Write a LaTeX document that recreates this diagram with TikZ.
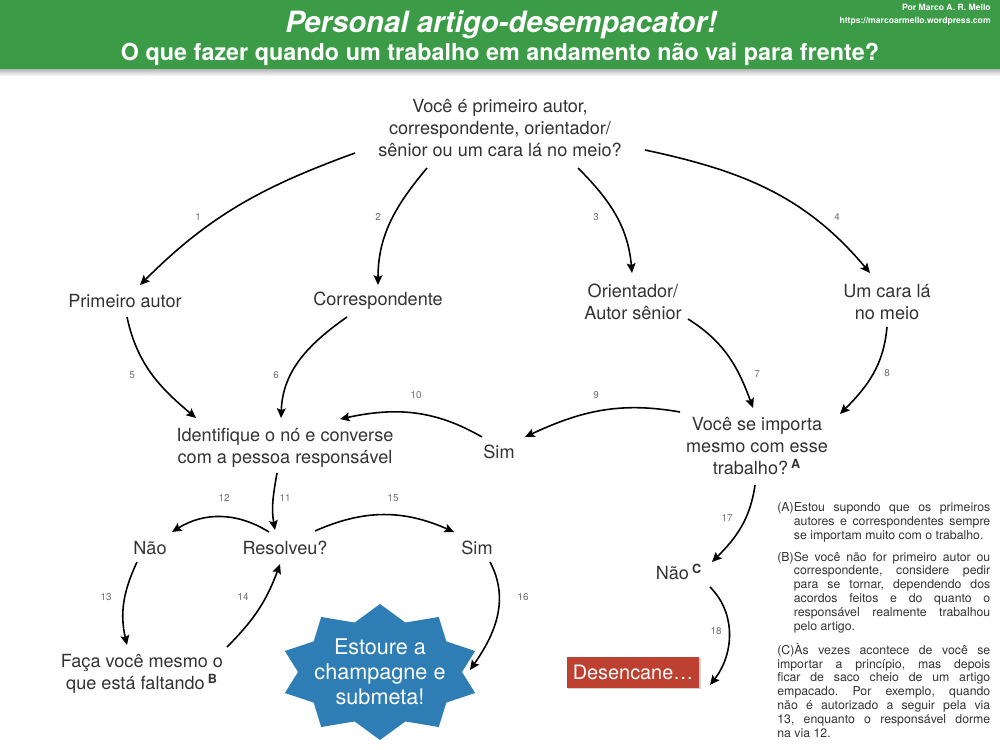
\documentclass[tikz,border=0pt]{standalone}
\usepackage{fontspec}
\setmainfont{TeX Gyre Heros}
\usetikzlibrary{arrows.meta,calc,shadows}
\definecolor{headgreen}{RGB}{59,155,71}
\definecolor{popblue}{RGB}{46,125,180}
\definecolor{givered}{RGB}{190,64,48}
\definecolor{ink}{RGB}{51,51,51}
\definecolor{numgray}{RGB}{110,110,110}
\newcommand{\nota}[1]{\textsuperscript{\bfseries #1}}
\frenchspacing
\begin{document}
\begin{tikzpicture}[x=0.02cm, y=0.02cm,
    ask/.style={align=center, text=ink, inner sep=1pt, font=\fontsize{10.3}{12.5}\selectfont},
    num/.style={text=numgray, inner sep=0pt, font=\fontsize{5.6}{6}\selectfont},
    flow/.style={-{Stealth[length=5.5pt,width=5pt,inset=1pt]}, line width=0.9pt},
    poptext/.style={align=center, text=white, font=\fontsize{12.3}{14.3}\selectfont},
    give/.style={fill=givered, text=white, minimum width=2.66cm, minimum height=0.62cm,
      font=\fontsize{11.3}{13}\selectfont, drop shadow={shadow xshift=0.6pt, shadow yshift=-1pt, opacity=.35}},
    credit/.style={text=white, inner sep=0pt, font=\fontsize{4.9}{5.5}\selectfont\bfseries}]
  \useasboundingbox (0,0) rectangle (1000,-750);

  % cabecalho
  \fill[headgreen] (0,0) rectangle (1000,-70);
  \shade[top color=black!25, bottom color=white] (0,-70) rectangle (1000,-76);
  \node[text=white, anchor=base, font=\fontsize{16.7}{18}\selectfont\bfseries\itshape] (t1) at (501,-33) {Personal artigo-desempacator!};
  \node[text=white, anchor=base, font=\fontsize{13.3}{15}\selectfont\bfseries] (t2) at (500,-61) {O que fazer quando um trabalho em andamento não vai para frente?};
  \node[credit, anchor=base east] (c1) at (991,-11) {Por Marco A. R. Mello};
  \node[credit, anchor=base east] (c2) at (991,-24) {https://marcoarmello.wordpress.com};

  % perguntas e respostas
  \node[ask] (q) at (500,-128) {Você é primeiro autor,\\correspondente, orientador/\\sênior ou um cara lá no meio?};
  \node[ask] (pa) at (125,-301) {Primeiro autor};
  \node[ask] (co) at (378,-301) {Correspondente};
  \node[ask] (ori) at (633,-302) {Orientador/\\Autor sênior};
  \node[ask] (um) at (887,-302) {Um cara lá\\no meio};
  \node[ask] (id) at (285,-448) {Identifique o nó e converse\\com a pessoa responsável};
  \node[ask] (sim1) at (499,-452) {Sim};
  \node[ask] (imp) at (757,-446) {Você se importa\\mesmo com esse\\trabalho?\,\nota{A}};
  \node[ask] (nao1) at (150,-548) {Não};
  \node[ask] (res) at (285,-548) {Resolveu?};
  \node[ask] (sim2) at (477,-548) {Sim};
  \node[ask] (nao2) at (679,-572) {Não\,\nota{C}};
  \node[ask] (faca) at (142,-674) {Faça você mesmo o\\que está faltando\,\nota{B}};

  % estrela
  \begin{scope}[shift={(380,-672)}]
    \fill[popblue] (90:100 and 68)
      \foreach \k in {1,...,19}{ -- ({90+18*\k}:{100-18*isodd(\k)} and {68-16*isodd(\k)}) } -- cycle;
  \end{scope}
  \node[poptext] (pop) at (380,-672) {Estoure a\\champagne e\\submeta!};
  \node[give] (des) at (633,-672) {Desencane…};

  % setas
  \draw[flow] ($(q)+(-145,-25)$) to[out=200,in=45] ($(pa)+(15,16)$);
  \draw[flow] ($(q)+(-73,-40)$) to[out=230,in=90] ($(co)+(0,16)$);
  \draw[flow] ($(q)+(78,-40)$) to[out=-45,in=95] ($(ori)+(-1,29)$);
  \draw[flow] ($(q)+(145,-22)$) to[out=-12,in=130] ($(um)+(-17,29)$);
  \draw[flow] ($(pa)+(2,-16)$) to[out=-78,in=140] ($(id)+(-89,30)$);
  \draw[flow] ($(co)+(-31,-16)$) to[out=215,in=88] ($(id)+(-4,30)$);
  \draw[flow] ($(ori)+(55,-17)$) to[out=-32,in=110] ($(imp)+(-4,38)$);
  \draw[flow] ($(um)+(0,-25)$) to[out=-95,in=45] ($(imp)+(83,32)$);
  \draw[flow] ($(imp)+(-77,34)$) to[out=170,in=25] ($(sim1)+(26,15)$);
  \draw[flow] ($(sim1)+(-17,15)$) to[out=150,in=12] ($(id)+(55,29)$);
  \draw[flow] ($(id)+(-8,-25)$) to[out=-100,in=100] ($(res)+(-10,18)$);
  \draw[flow] ($(res)+(-16,16)$) to[out=148,in=32] ($(nao1)+(22,16)$);
  \draw[flow] ($(nao1)+(-13,-14)$) to[out=245,in=103] ($(faca)+(-15,29)$);
  \draw[flow] ($(faca)+(85,27)$) to[out=45,in=250] ($(res)+(-5,-16)$);
  \draw[flow] ($(res)+(30,17)$) to[out=24,in=156] ($(sim2)+(-23,16)$);
  \draw[flow] ($(sim2)+(13,-14)$) to[out=-62,in=55] ($(pop)+(90,2)$);
  \draw[flow] ($(imp)+(-2,-39)$) to[out=-98,in=45] ($(nao2)+(33,10)$);
  \draw[flow] ($(nao2)+(31,-15)$) to[out=-45,in=52] ($(des)+(77,-13)$);

  % numeros das vias
  \foreach \n/\x/\y in {1/198/217, 2/378/217, 3/596/217, 4/837/217, 5/132/375, 6/276/375,
      7/757/374, 8/887/373, 9/596/395, 10/416/395, 11/285/498, 12/224/498, 13/106/597,
      14/243/597, 15/393/498, 16/523/597, 17/727/518, 18/716/631}
    \node[num] (l\n) at (\x,-\y) {\n};

  % notas
  \node[anchor=north west, inner sep=0pt, text width=4.26cm, align=justify, text=ink,
      font=\fontsize{7}{7.9}\selectfont] (notas) at (777,-502) {%
    \hangindent=9.4pt\hangafter=1 (A)Estou supondo que os primeiros\linebreak
    autores e correspondentes sempre\linebreak
    se importam muito com o trabalho.\par\vspace{4.6pt}
    \hangindent=9.4pt\hangafter=1 (B)Se você não for primeiro autor ou\linebreak
    correspondente, considere pedir\linebreak
    para se tornar, dependendo dos\linebreak
    acordos feitos e do quanto o\linebreak
    responsável realmente trabalhou\linebreak
    pelo artigo.\par\vspace{4.6pt}
    \hangindent=9.4pt\hangafter=1 (C)Às vezes acontece de você se\linebreak
    importar a princípio, mas depois\linebreak
    ficar de saco cheio de um artigo\linebreak
    empacado. Por exemplo, quando\linebreak
    não é autorizado a seguir pela via\linebreak
    13, enquanto o responsável dorme\linebreak
    na via 12.};
\end{tikzpicture}
\end{document}
